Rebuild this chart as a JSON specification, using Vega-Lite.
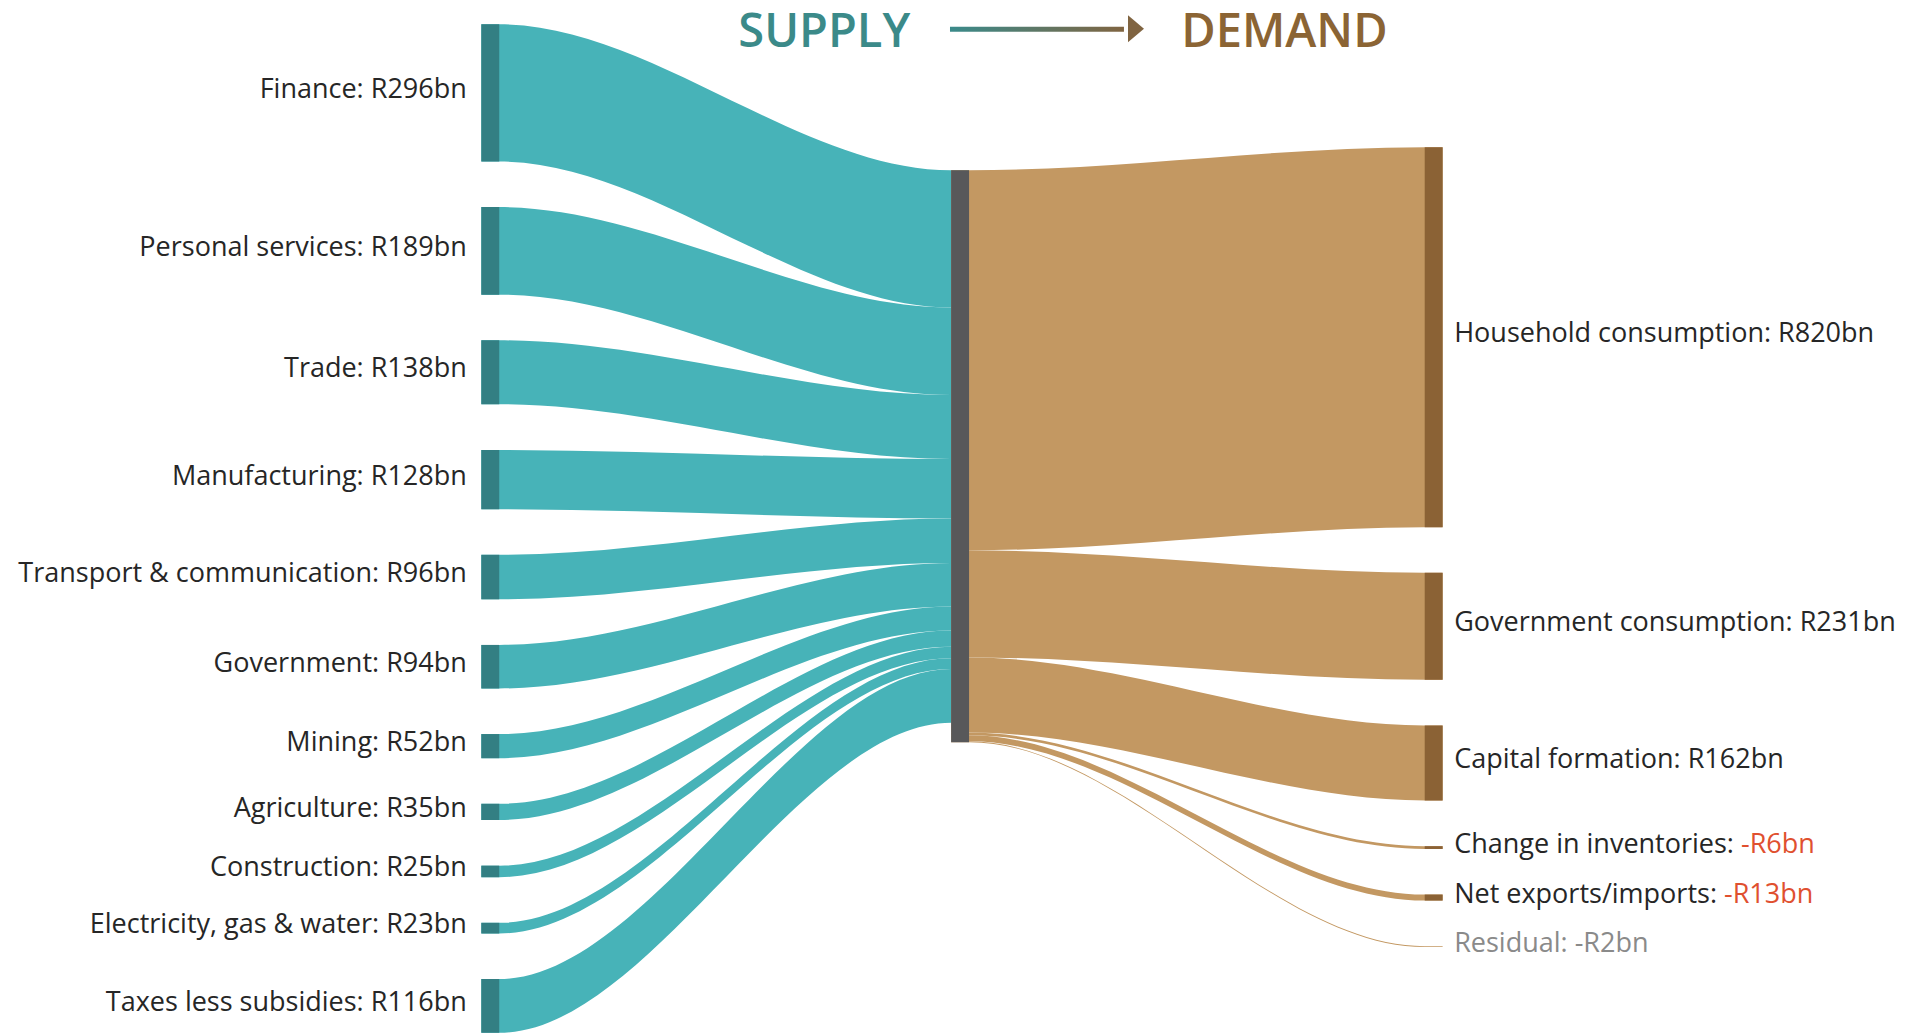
{
  "$schema": "https://vega.github.io/schema/vega-lite/v6.json",
  "width": 1909,
  "height": 1033,
  "padding": 0,
  "autosize": {"type": "none"},
  "background": "white",
  "config": {"view": {"stroke": null}, "text": {"font": "Open Sans"}},
  "layer": [
    {
      "data": {
        "values": [
          {"side": "supply", "source": "Finance", "target": "GDP", "value": 296},
          {"side": "supply", "source": "Personal services", "target": "GDP", "value": 189},
          {"side": "supply", "source": "Trade", "target": "GDP", "value": 138},
          {"side": "supply", "source": "Manufacturing", "target": "GDP", "value": 128},
          {"side": "supply", "source": "Transport & communication", "target": "GDP", "value": 96},
          {"side": "supply", "source": "Government", "target": "GDP", "value": 94},
          {"side": "supply", "source": "Mining", "target": "GDP", "value": 52},
          {"side": "supply", "source": "Agriculture", "target": "GDP", "value": 35},
          {"side": "supply", "source": "Construction", "target": "GDP", "value": 25},
          {"side": "supply", "source": "Electricity, gas & water", "target": "GDP", "value": 23},
          {"side": "supply", "source": "Taxes less subsidies", "target": "GDP", "value": 116},
          {"side": "demand", "source": "GDP", "target": "Household consumption", "value": 820},
          {"side": "demand", "source": "GDP", "target": "Government consumption", "value": 231},
          {"side": "demand", "source": "GDP", "target": "Capital formation", "value": 162},
          {"side": "demand", "source": "GDP", "target": "Change in inventories", "value": -6},
          {"side": "demand", "source": "GDP", "target": "Net exports/imports", "value": -13},
          {"side": "demand", "source": "GDP", "target": "Residual", "value": -2}
        ]
      },
      "transform": [
        {"calculate": "abs(datum.value)", "as": "absval"},
        {"window": [{"op": "sum", "field": "absval", "as": "cum"}, {"op": "row_number", "as": "rn"}], "groupby": ["side"], "frame": [null, 0]},
        {"calculate": "datum.side === 'supply' ? datum.cum - datum.absval + (datum.rn - 1) * 98.4 : 315 + datum.cum - datum.absval", "as": "aTop"},
        {"calculate": "datum.side === 'supply' ? 315 + datum.cum - datum.absval : 265 + datum.cum - datum.absval + (datum.rn - 1) * 98.4", "as": "bTop"},
        {"calculate": "datum.aTop + datum.absval", "as": "aBot"},
        {"calculate": "datum.bTop + datum.absval", "as": "bBot"},
        {"calculate": "(datum.aTop + datum.aBot) / 2", "as": "aMid"},
        {"calculate": "(datum.bTop + datum.bBot) / 2", "as": "bMid"},
        {"calculate": "datum.side === 'supply' ? datum.source : datum.target", "as": "name"},
        {"calculate": "datum.name + ': ' + (datum.value < 0 ? '-R' : 'R') + datum.absval + 'bn'", "as": "full"},
        {"calculate": "datum.name + ':'", "as": "prefix"}
      ],
      "layer": [
        {
          "transform": [
            {"calculate": "datum.side === 'supply' ? -0.019 : 0.977", "as": "p0"},
            {"calculate": "datum.side === 'supply' ? 0.019 : 1.015", "as": "p1"},
            {"calculate": "datum.side === 'supply' ? 0.977 : 1.981", "as": "p2"},
            {"calculate": "datum.side === 'supply' ? 1.015 : 2.019", "as": "p3"},
            {"fold": ["p0", "p1", "p2", "p3"], "as": ["pt", "px"]},
            {"calculate": "(datum.pt === 'p0' || datum.pt === 'p1') ? datum.aTop : datum.bTop", "as": "yt"},
            {"calculate": "datum.yt + datum.absval", "as": "yb"}
          ],
          "mark": {"type": "area", "interpolate": "monotone", "strokeWidth": 0},
          "encoding": {
            "x": {"field": "px", "type": "quantitative", "scale": {"domain": [-1.0394, 3.0077], "nice": false, "zero": false}, "axis": null},
            "y": {"field": "yt", "type": "quantitative", "stack": null, "scale": {"domain": [-52.43, 2176.3], "nice": false, "zero": false, "reverse": true}, "axis": null},
            "y2": {"field": "yb"},
            "detail": {"field": "name", "type": "nominal"},
            "color": {"condition": {"test": "datum.side === 'supply'", "value": "#47b3b8"}, "value": "#c39862"}
          }
        },
        {
          "transform": [{"filter": "datum.side === 'supply'"}],
          "mark": {"type": "rect", "color": "#337f83"},
          "encoding": {
            "x": {"datum": -0.019, "type": "quantitative"},
            "x2": {"datum": 0.019},
            "y": {"field": "aTop", "type": "quantitative"},
            "y2": {"field": "aBot"}
          }
        },
        {
          "transform": [
            {"filter": "datum.side === 'demand'"},
            {"aggregate": [{"op": "min", "field": "aTop", "as": "mTop"}, {"op": "max", "field": "aBot", "as": "mBot"}]}
          ],
          "mark": {"type": "rect", "color": "#58585a"},
          "encoding": {
            "x": {"datum": 0.977, "type": "quantitative"},
            "x2": {"datum": 1.015},
            "y": {"field": "mTop", "type": "quantitative"},
            "y2": {"field": "mBot"}
          }
        },
        {
          "transform": [{"filter": "datum.side === 'demand' && datum.target !== 'Residual'"}],
          "mark": {"type": "rect", "color": "#8b6235"},
          "encoding": {
            "x": {"datum": 1.981, "type": "quantitative"},
            "x2": {"datum": 2.019},
            "y": {"field": "bTop", "type": "quantitative"},
            "y2": {"field": "bBot"}
          }
        },
        {
          "transform": [{"filter": "datum.side === 'supply'"}],
          "mark": {"type": "text", "align": "right", "baseline": "middle", "dx": -23.5, "dy": -3, "fontSize": 27, "color": "#262626"},
          "encoding": {
            "x": {"datum": 0, "type": "quantitative"},
            "y": {"field": "aMid", "type": "quantitative"},
            "text": {"field": "full"}
          }
        },
        {
          "transform": [{"filter": "datum.side === 'demand'"}],
          "mark": {"type": "text", "align": "left", "baseline": "middle", "dx": 20.5, "dy": -3, "fontSize": 27},
          "encoding": {
            "x": {"datum": 2, "type": "quantitative"},
            "y": {"field": "bMid", "type": "quantitative"},
            "text": {"field": "full"},
            "color": {"condition": [{"test": "datum.target === 'Residual'", "value": "#8a8a8a"}, {"test": "datum.value < 0", "value": "#e0502f"}], "value": "#262626"}
          }
        },
        {
          "transform": [{"filter": "datum.side === 'demand' && datum.value < 0 && datum.target !== 'Residual'"}],
          "mark": {"type": "text", "align": "left", "baseline": "middle", "dx": 20.5, "dy": -3, "fontSize": 27, "fill": "white", "stroke": "white", "strokeWidth": 3},
          "encoding": {
            "x": {"datum": 2, "type": "quantitative"},
            "y": {"field": "bMid", "type": "quantitative"},
            "text": {"field": "prefix"}
          }
        },
        {
          "transform": [{"filter": "datum.side === 'demand' && datum.value < 0 && datum.target !== 'Residual'"}],
          "mark": {"type": "text", "align": "left", "baseline": "middle", "dx": 20.5, "dy": -3, "fontSize": 27, "color": "#262626"},
          "encoding": {
            "x": {"datum": 2, "type": "quantitative"},
            "y": {"field": "bMid", "type": "quantitative"},
            "text": {"field": "prefix"}
          }
        }
      ]
    },
    {
      "data": {"values": [{"title": "SUPPLY"}]},
      "mark": {"type": "text", "align": "center", "baseline": "alphabetic", "fontSize": 47, "fontWeight": 600, "color": "#3b8a89"},
      "encoding": {
        "x": {"datum": 0.708, "type": "quantitative"},
        "y": {"datum": 49.6, "type": "quantitative"},
        "text": {"field": "title"}
      }
    },
    {
      "data": {"values": [{"title": "DEMAND"}]},
      "mark": {"type": "text", "align": "center", "baseline": "alphabetic", "fontSize": 47, "fontWeight": 600, "color": "#8b6434"},
      "encoding": {
        "x": {"datum": 1.6837, "type": "quantitative"},
        "y": {"datum": 49.6, "type": "quantitative"},
        "text": {"field": "title"}
      }
    },
    {
      "data": {"values": [{"part": "arrow shaft"}]},
      "mark": {"type": "rect", "fill": {"gradient": "linear", "stops": [{"offset": 0, "color": "#3a8a8a"}, {"offset": 1, "color": "#806441"}]}},
      "encoding": {
        "x": {"datum": 0.9746, "type": "quantitative"},
        "x2": {"datum": 1.3434},
        "y": {"datum": 5.4, "type": "quantitative"},
        "y2": {"datum": 16.2}
      }
    },
    {
      "data": {"values": [{"part": "arrow head"}]},
      "mark": {"type": "point", "shape": "M -0.593 -1 L 0.593 0 L -0.593 1 Z", "filled": true, "size": 729, "color": "#806441", "opacity": 1, "strokeWidth": 0},
      "encoding": {
        "x": {"datum": 1.3689, "type": "quantitative"},
        "y": {"datum": 9.8, "type": "quantitative"}
      }
    }
  ]
}
